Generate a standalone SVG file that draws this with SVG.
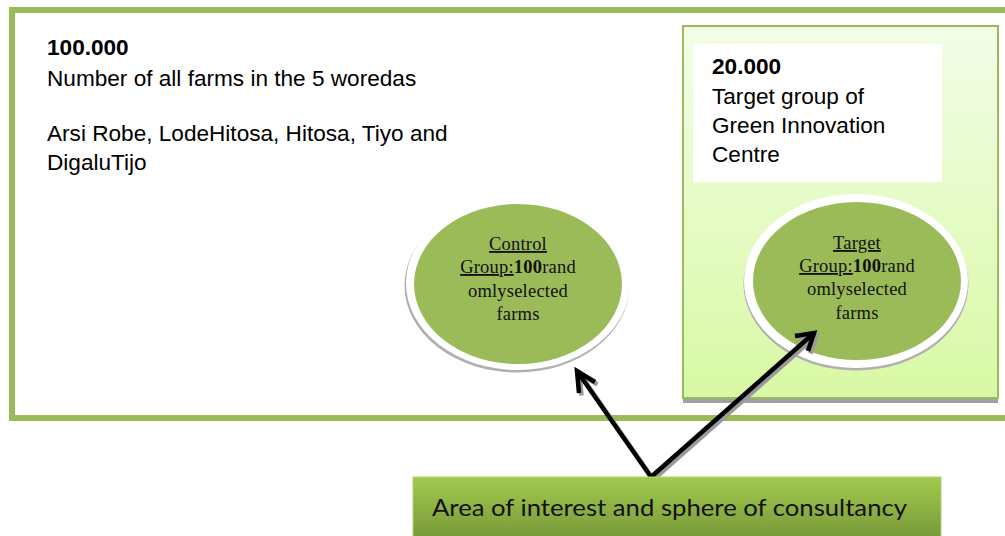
<svg xmlns="http://www.w3.org/2000/svg" width="1005" height="536" viewBox="0 0 1005 536">
<defs>
<linearGradient id="gInner" x1="0" y1="0" x2="0" y2="1">
<stop offset="0" stop-color="#f3fde8"/>
<stop offset="1" stop-color="#d8f9a4"/>
</linearGradient>
<linearGradient id="gBottom" x1="0" y1="0" x2="0" y2="1">
<stop offset="0" stop-color="#a2ca4e"/>
<stop offset="1" stop-color="#779838"/>
</linearGradient>
<style>
.sans{font-family:"Liberation Sans",Arial,sans-serif;font-size:22.6px;fill:#000}
.b{font-weight:bold}
.serif{font-family:"Liberation Serif","Times New Roman",serif;font-size:18.5px;fill:#111;text-anchor:middle;letter-spacing:0.2px}
.u{text-decoration:underline}
.ring{fill:#ffffff}
.ringShadow{fill:#b0b0b0}
.core{fill:#9bbb59}
.arrow{fill:none;stroke:#000;stroke-width:4.5;stroke-linejoin:miter;stroke-linecap:butt}
.arrowShadow{fill:none;stroke:#9a9a9a;stroke-width:4.5;stroke-linejoin:miter}
</style>
</defs>
<rect width="1005" height="536" fill="#ffffff"/>

<g id="all-farms">
<rect x="12" y="10" width="1010" height="408" fill="#ffffff" stroke="#9bbb59" stroke-width="6"/>
<text class="sans b" x="47" y="55">100.000</text>
<text class="sans" x="47" y="86">Number of all farms in the 5 woredas</text>
<text class="sans" x="47" y="141">Arsi Robe, LodeHitosa, Hitosa, Tiyo and</text>
<text class="sans" x="47" y="170">DigaluTijo</text>
</g>

<g id="target-group-gic">
<rect x="683" y="398" width="315" height="5" fill="#a0a0a0"/>
<rect x="683" y="26" width="315" height="372" fill="url(#gInner)" stroke="#9bbb59" stroke-width="2"/>
<rect x="693" y="44" width="249" height="138" fill="#ffffff"/>
<text class="sans b" x="712" y="74">20.000</text>
<text class="sans" x="712" y="104">Target group of</text>
<text class="sans" x="712" y="133">Green Innovation</text>
<text class="sans" x="712" y="162">Centre</text>
</g>

<g id="control-group">
<ellipse class="ringShadow" cx="517" cy="285.5" rx="112.5" ry="87"/>
<ellipse class="ring" cx="518" cy="283" rx="112" ry="87"/>
<ellipse class="core" cx="518" cy="284" rx="104" ry="80"/>
<text class="serif" x="518" y="250"><tspan class="u">Control</tspan></text>
<text class="serif" x="518" y="273"><tspan class="u">Group:</tspan><tspan class="b">100</tspan>rand</text>
<text class="serif" x="518" y="297">omlyselected</text>
<text class="serif" x="518" y="320">farms</text>
</g>

<g id="target-group">
<ellipse class="ringShadow" cx="856" cy="283.5" rx="112.5" ry="87"/>
<ellipse class="ring" cx="856" cy="281" rx="112" ry="87"/>
<ellipse class="core" cx="857" cy="281" rx="104" ry="79"/>
<text class="serif" x="857" y="249"><tspan class="u">Target</tspan></text>
<text class="serif" x="857" y="272"><tspan class="u">Group:</tspan><tspan class="b">100</tspan>rand</text>
<text class="serif" x="857" y="295">omlyselected</text>
<text class="serif" x="857" y="319">farms</text>
</g>

<g id="connectors">
<g transform="translate(2.5,2.5)">
<polyline class="arrowShadow" points="651,477 577,371"/>
<polyline class="arrowShadow" points="595,382 577,371 579,393"/>
<polyline class="arrowShadow" points="651,477 814,333"/>
<polyline class="arrowShadow" points="795,336 814,333 808,351"/>
</g>
<polyline class="arrow" points="651,477 577,371"/>
<polyline class="arrow" points="595,382 577,371 579,393"/>
<polyline class="arrow" points="651,477 814,333"/>
<polyline class="arrow" points="795,336 814,333 808,351"/>
</g>

<g id="area-of-interest">
<rect x="413" y="477" width="528" height="62" fill="url(#gBottom)" stroke="#b3d07a" stroke-width="1"/>
<text x="432" y="516" font-family="Lato,'Open Sans',sans-serif" font-size="23" fill="#111" textLength="475" lengthAdjust="spacingAndGlyphs">Area of interest and sphere of consultancy</text>
</g>
</svg>
